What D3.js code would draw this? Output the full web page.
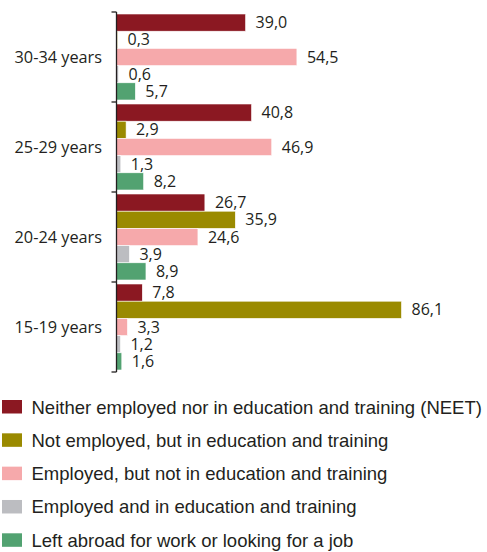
<!DOCTYPE html>
<html>
<head>
<meta charset="utf-8">
<script src="https://cdn.jsdelivr.net/npm/d3@7"></script>
<style>
  html, body { margin: 0; padding: 0; background: #ffffff; }
  svg { display: block; }
</style>
</head>
<body>
<svg id="chart" width="487" height="552"></svg>
<script>
// Age groups, top to bottom
const ageGroups = ["30-34 years", "25-29 years", "20-24 years", "15-19 years"];

// Share of young people by status, per age group (%)
const neet        = [39.0, 40.8, 26.7, 7.8];
const notEmpInEdu = [0.3, 2.9, 35.9, 86.1];
const empNotInEdu = [54.5, 46.9, 24.6, 3.3];
const empInEdu    = [0.6, 1.3, 3.9, 1.2];
const abroad      = [5.7, 8.2, 8.9, 1.6];

const seriesNames = [
  "Neither employed nor in education and training (NEET)",
  "Not employed, but in education and training",
  "Employed, but not in education and training",
  "Employed and in education and training",
  "Left abroad for work or looking for a job"
];
const seriesValues = [neet, notEmpInEdu, empNotInEdu, empInEdu, abroad];
const seriesColors = ["#8b1822", "#9a8a00", "#f6a9ab", "#bcbdc1", "#52a271"];

const svg = d3.select("#chart");
const textColor = "#231f20";
const axisX = 116.5;

const y0 = d3.scaleBand().domain(ageGroups).range([12, 372]).paddingInner(0).paddingOuter(0);
const y1 = d3.scaleBand().domain(d3.range(seriesNames.length)).range([2, y0.bandwidth() - 2]).padding(0);
const x = d3.scaleLinear().domain([0, 86.1]).range([axisX, 401.5]);

// Bars with value labels
const groups = svg.append("g").selectAll("g")
  .data(ageGroups)
  .join("g")
  .attr("transform", d => `translate(0,${y0(d)})`);

groups.each(function(cat, gi) {
  const g = d3.select(this);
  seriesValues.forEach((vals, si) => {
    const v = vals[gi];
    g.append("rect")
      .attr("x", x(0))
      .attr("y", y1(si))
      .attr("width", x(v) - x(0))
      .attr("height", y1.bandwidth())
      .attr("fill", seriesColors[si])
      .attr("stroke", "#ffffff")
      .attr("stroke-width", 0.6);
    g.append("text")
      .attr("x", x(v) + 10)
      .attr("y", y1(si) + y1.bandwidth() / 2)
      .attr("dy", "0.35em")
      .attr("font-family", "'Open Sans', sans-serif")
      .attr("font-size", "16px")
      .attr("fill", textColor)
      .text(d3.format(".1f")(v).replace(".", ","));
  });
});

// Category axis
const axis = svg.append("g");
axis.append("line")
  .attr("x1", axisX).attr("x2", axisX)
  .attr("y1", y0.range()[0]).attr("y2", y0.range()[1])
  .attr("stroke", textColor).attr("stroke-width", 1.3);
const tickYs = ageGroups.map(d => y0(d)).concat([y0.range()[1]]);
axis.selectAll("line.tick")
  .data(tickYs)
  .join("line")
  .attr("class", "tick")
  .attr("x1", axisX - 5).attr("x2", axisX)
  .attr("y1", d => d).attr("y2", d => d)
  .attr("stroke", textColor).attr("stroke-width", 1.3);
axis.selectAll("text")
  .data(ageGroups)
  .join("text")
  .attr("x", 102)
  .attr("y", d => y0(d) + y0.bandwidth() / 2)
  .attr("dy", "0.35em")
  .attr("text-anchor", "end")
  .attr("font-family", "'Open Sans', sans-serif")
  .attr("font-size", "16.3px")
  .attr("fill", textColor)
  .text(d => d);

// Legend
const legend = svg.append("g");
const legendY = d3.scaleLinear().domain([0, 4]).range([400, 533.3]);
seriesNames.forEach((name, i) => {
  legend.append("rect")
    .attr("x", 2).attr("y", legendY(i))
    .attr("width", 20).attr("height", 13.5)
    .attr("fill", seriesColors[i]);
  legend.append("text")
    .attr("x", 31.5)
    .attr("y", legendY(i) + 13.5)
    .attr("font-family", "'Liberation Sans', Arial, sans-serif")
    .attr("font-size", "18.5px")
    .attr("fill", textColor)
    .text(name);
});
</script>
</body>
</html>
